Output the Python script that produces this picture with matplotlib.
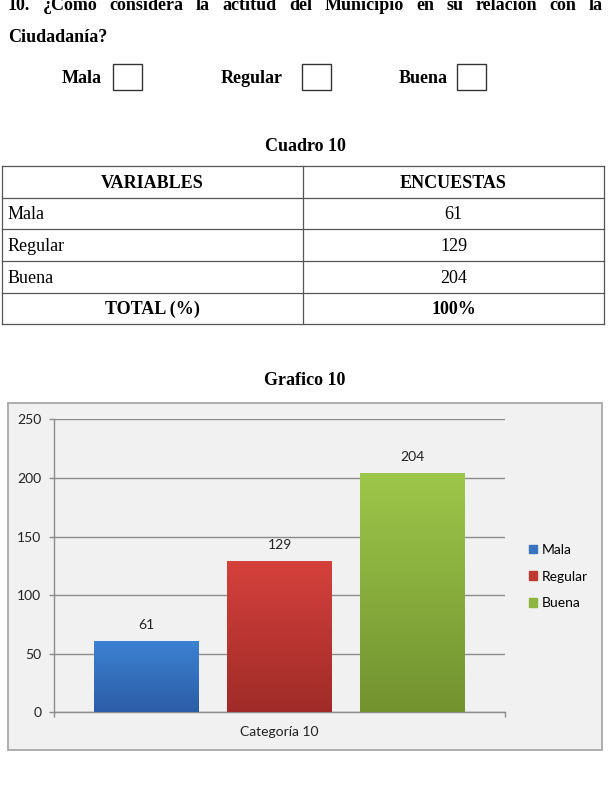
import numpy as np
import matplotlib
matplotlib.use("Agg")
import matplotlib.pyplot as plt
from matplotlib.patches import Rectangle
from matplotlib.colors import LinearSegmentedColormap

# ---------------- data ----------------
question_line1 = "10. ¿Como considera la actitud del Municipio en su relacion con la"
question_line2 = "Ciudadanía?"
options = ["Mala", "Regular", "Buena"]
table_title = "Cuadro 10"
table_headers = ["VARIABLES", "ENCUESTAS"]
variables = ["Mala", "Regular", "Buena"]
encuestas = [61, 129, 204]
total_label = "TOTAL (%)"
total_value = "100%"
chart_title = "Grafico 10"
category = "Categoría 10"
yticks = [0, 50, 100, 150, 200, 250]
bar_top_colors = ["#3d82d3", "#d5413c", "#9dc74a"]
bar_bot_colors = ["#2b5da6", "#9f2b28", "#72922f"]
legend_colors = ["#3a73c0", "#c0392f", "#8db63e"]

W, H = 609, 788
DPI = 100
fig = plt.figure(figsize=(W / DPI, H / DPI), dpi=DPI)
fig.patch.set_facecolor("white")

# background axes in pixel coords
bg = fig.add_axes([0, 0, 1, 1])
bg.set_xlim(0, W)
bg.set_ylim(H, 0)
bg.axis("off")

serif = "Liberation Serif"
sans = "Lato"
FS = 13
CFS = 10

# ---- question, justified first line ----
words = question_line1.split(" ")
fig.canvas.draw()
renderer = fig.canvas.get_renderer()
tmp = []
widths = []
for w in words:
    t = bg.text(0, 0, w, fontsize=FS, fontweight="bold", family=serif)
    bb = t.get_window_extent(renderer)
    widths.append(bb.width)
    tmp.append(t)
x_left, x_right = 8, 603
gap = (x_right - x_left - sum(widths)) / (len(words) - 1)
x = x_left
for t, wd in zip(tmp, widths):
    t.set_position((x, 10))
    t.set_va("baseline")
    x += wd + gap

bg.text(8, 42, question_line2, fontsize=FS, fontweight="bold", family=serif, va="baseline")

# options with boxes
opt_x = [62, 221, 399]
box_x = [113, 302, 457]
for lab, ox, bx in zip(options, opt_x, box_x):
    bg.text(ox, 83, lab, fontsize=FS, fontweight="bold", family=serif, va="baseline")
    bg.add_patch(Rectangle((bx, 64), 29, 26, fill=False, edgecolor="#333333", lw=1.0))

# ---- table ----
bg.text(305, 151, table_title, fontsize=FS, fontweight="bold", family=serif,
        ha="center", va="baseline")
tl, tr, tm = 2, 604, 303
row_y = [166, 198, 229, 261, 293, 324]
for y in row_y:
    bg.plot([tl, tr], [y, y], color="#555555", lw=0.9)
bg.plot([tl, tl], [row_y[0], row_y[-1]], color="#555555", lw=0.9)
bg.plot([tr, tr], [row_y[0], row_y[-1]], color="#555555", lw=0.9)
bg.plot([tm, tm], [row_y[0], row_y[-1]], color="#555555", lw=0.9)

def rc(i):
    return (row_y[i] + row_y[i + 1]) / 2 + 1

bg.text((tl + tm) / 2, rc(0), table_headers[0], fontsize=FS, fontweight="bold",
        family=serif, ha="center", va="center")
bg.text((tm + tr) / 2, rc(0), table_headers[1], fontsize=FS, fontweight="bold",
        family=serif, ha="center", va="center")
for i, (v, n) in enumerate(zip(variables, encuestas)):
    bg.text(8, rc(i + 1), v, fontsize=FS, family=serif, va="center")
    bg.text((tm + tr) / 2, rc(i + 1), str(n), fontsize=FS, family=serif,
            ha="center", va="center")
bg.text((tl + tm) / 2, rc(4), total_label, fontsize=FS, fontweight="bold",
        family=serif, ha="center", va="center")
bg.text((tm + tr) / 2, rc(4), total_value, fontsize=FS, fontweight="bold",
        family=serif, ha="center", va="center")

# ---- chart ----
bg.text(305, 385, chart_title, fontsize=FS, fontweight="bold", family=serif,
        ha="center", va="baseline")
bg.add_patch(Rectangle((8, 403), 594, 347, facecolor="#f1f1f1",
                       edgecolor="#a8a8a8", lw=1.3))

ax_l, ax_r, ax_t, ax_b = 54, 505, 419.3, 712.3
ax = fig.add_axes([ax_l / W, (H - ax_b) / H, (ax_r - ax_l) / W, (ax_b - ax_t) / H])
ax.set_facecolor("none")
xs = np.arange(len(encuestas))
bw = 0.79
bars = ax.bar(xs, encuestas, width=bw, color=legend_colors, zorder=2, linewidth=0)
grad = np.linspace(0, 1, 256).reshape(-1, 1)
for b, ct, cb in zip(bars, bar_top_colors, bar_bot_colors):
    cmap = LinearSegmentedColormap.from_list("g", [cb, ct])
    x0, y0 = b.get_x(), b.get_y()
    im = ax.imshow(grad, cmap=cmap, origin="lower", aspect="auto",
                   extent=[x0, x0 + b.get_width(), y0, y0 + b.get_height()], zorder=3)
    im.set_clip_path(b)
for xv, v in zip(xs, encuestas):
    ax.annotate(str(v), (xv, v), xytext=(0, 7), textcoords="offset points",
                ha="center", va="bottom", fontsize=CFS, family=sans, color="#222222")

ax.set_xlim(-0.70, 2.70)
ax.set_ylim(0, 250)
ax.set_yticks(yticks)
ax.set_yticklabels([str(t) for t in yticks], fontsize=CFS, family=sans, color="#222222")
ax.yaxis.grid(True, color="#8c8c8c", lw=1.0, zorder=1)
ax.set_axisbelow(True)
ax.tick_params(axis="y", length=3.6, width=1, color="#8c8c8c", pad=5.5)
ax.set_xticks([-0.70, 2.70])
ax.set_xticklabels(["", ""])
ax.tick_params(axis="x", length=3.6, width=1, color="#8c8c8c")
for s in ["top", "right"]:
    ax.spines[s].set_visible(False)
for s in ["left", "bottom"]:
    ax.spines[s].set_color("#8c8c8c")
    ax.spines[s].set_linewidth(1.0)
ax.text(1.0, -0.066, category, transform=ax.get_xaxis_transform(), ha="center",
        va="center", fontsize=CFS, family=sans, color="#222222")

handles = [Rectangle((0, 0), 1, 1, color=c) for c in legend_colors]
leg = fig.legend(handles, variables, loc="upper left",
                 bbox_to_anchor=(522 / W, 1 - 537 / H), frameon=False,
                 prop={"family": sans, "size": CFS}, handlelength=0.6,
                 handleheight=0.6, handletextpad=0.35, labelspacing=1.05,
                 borderpad=0)

fig.savefig("out.png", dpi=DPI)
